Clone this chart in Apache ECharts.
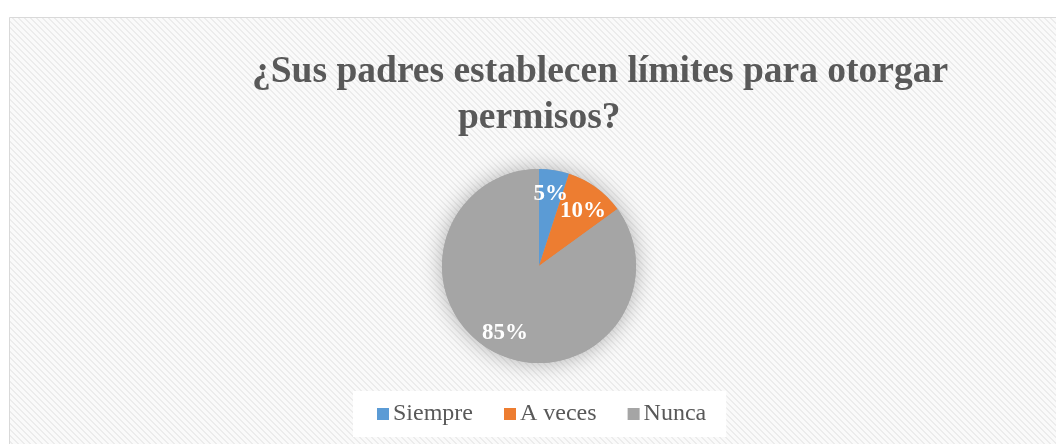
<!DOCTYPE html>
<html>
<head>
<meta charset="utf-8">
<script src="https://cdn.jsdelivr.net/npm/echarts@6/dist/echarts.min.js"></script>
<style>
  html, body { margin: 0; padding: 0; background: #fff; }
  #chart { width: 1056px; height: 444px; }
</style>
</head>
<body>
<div id="chart"></div>
<script>
let titleLines = ["¿Sus padres establecen límites para otorgar", "permisos?"];
let categories = ["Siempre", "A veces", "Nunca"];
let values = [5, 10, 85];
let colors = ["#5b9bd5", "#ed7d31", "#a5a5a5"];

// hatch pattern for the chart area
function makeHatch() {
  let c = document.createElement("canvas");
  let n = 6;
  c.width = n;
  c.height = n;
  let ctx = c.getContext("2d");
  ctx.fillStyle = "#fafafa";
  ctx.fillRect(0, 0, n, n);
  ctx.fillStyle = "#ececec";
  for (let x = 0; x < n; x++) {
    for (let y = 0; y < n; y++) {
      let d = (x - y + n) % n;
      if (d === 0 || d === 1) ctx.fillRect(x, y, 1, 1);
    }
  }
  return c;
}

let dom = document.getElementById("chart");
let myChart = echarts.init(dom, null, { renderer: "canvas" });

let pieData = categories.map(function (name, i) {
  return { name: name, value: values[i], itemStyle: { color: colors[i] } };
});

let option = {
  animation: false,
  backgroundColor: "#ffffff",
  graphic: [
    {
      type: "rect",
      z: -10,
      shape: { x: 9.5, y: 17.5, width: 1060, height: 440 },
      style: { fill: { image: makeHatch(), repeat: "repeat" }, stroke: "#d9d9d9", lineWidth: 1 }
    }
  ],
  title: [
    {
      text: titleLines[0],
      left: 252,
      top: 53,
      padding: 0,
      textStyle: { fontFamily: "Liberation Serif", fontWeight: "bold", fontSize: 37.5, color: "#595959" }
    },
    {
      text: titleLines[1],
      left: 458,
      top: 99,
      padding: 0,
      textStyle: { fontFamily: "Liberation Serif", fontWeight: "bold", fontSize: 37.5, color: "#595959" }
    }
  ],
  legend: {
    bottom: 7,
    left: 353,
    data: categories,
    icon: "rect",
    itemWidth: 12,
    itemHeight: 12,
    itemGap: 31,
    backgroundColor: "#ffffff",
    padding: [11, 20, 11, 24],
    textStyle: { fontFamily: "Liberation Serif", fontSize: 24, color: "#595959", padding: [0, 0, 0, -1] }
  },
  series: [
    {
      // soft shadow disc behind the pie
      type: "pie",
      silent: true,
      z: 1,
      center: [539, 266],
      radius: [0, 97],
      label: { show: false },
      labelLine: { show: false },
      itemStyle: { color: "#a5a5a5", shadowBlur: 22, shadowColor: "rgba(0,0,0,0.3)" },
      data: [{ value: 1, name: "" }]
    },
    {
      type: "pie",
      z: 2,
      center: [539, 266],
      radius: [0, 97],
      startAngle: 90,
      clockwise: true,
      label: { show: false },
      labelLine: { show: false },
      data: pieData
    },
    {
      // label ring: transparent sectors so labels sit at ~72px from centre
      type: "pie",
      z: 3,
      silent: true,
      center: [539, 266],
      radius: [47, 97],
      startAngle: 90,
      clockwise: true,
      itemStyle: { color: "rgba(0,0,0,0)" },
      labelLine: { show: false },
      label: {
        show: true,
        position: "inside",
        formatter: "{c}%",
        fontFamily: "Liberation Serif",
        fontWeight: "bold",
        fontSize: 23,
        color: "#ffffff"
      },
      labelLayout: function (params) {
        if (params.dataIndex === 1) return { dy: 6 };
        if (params.dataIndex === 0) return { dy: 2 };
        return {};
      },
      data: categories.map(function (name, i) {
        return { name: name, value: values[i] };
      })
    }
  ]
};

myChart.setOption(option);
window.addEventListener("resize", myChart.resize);
</script>
</body>
</html>
